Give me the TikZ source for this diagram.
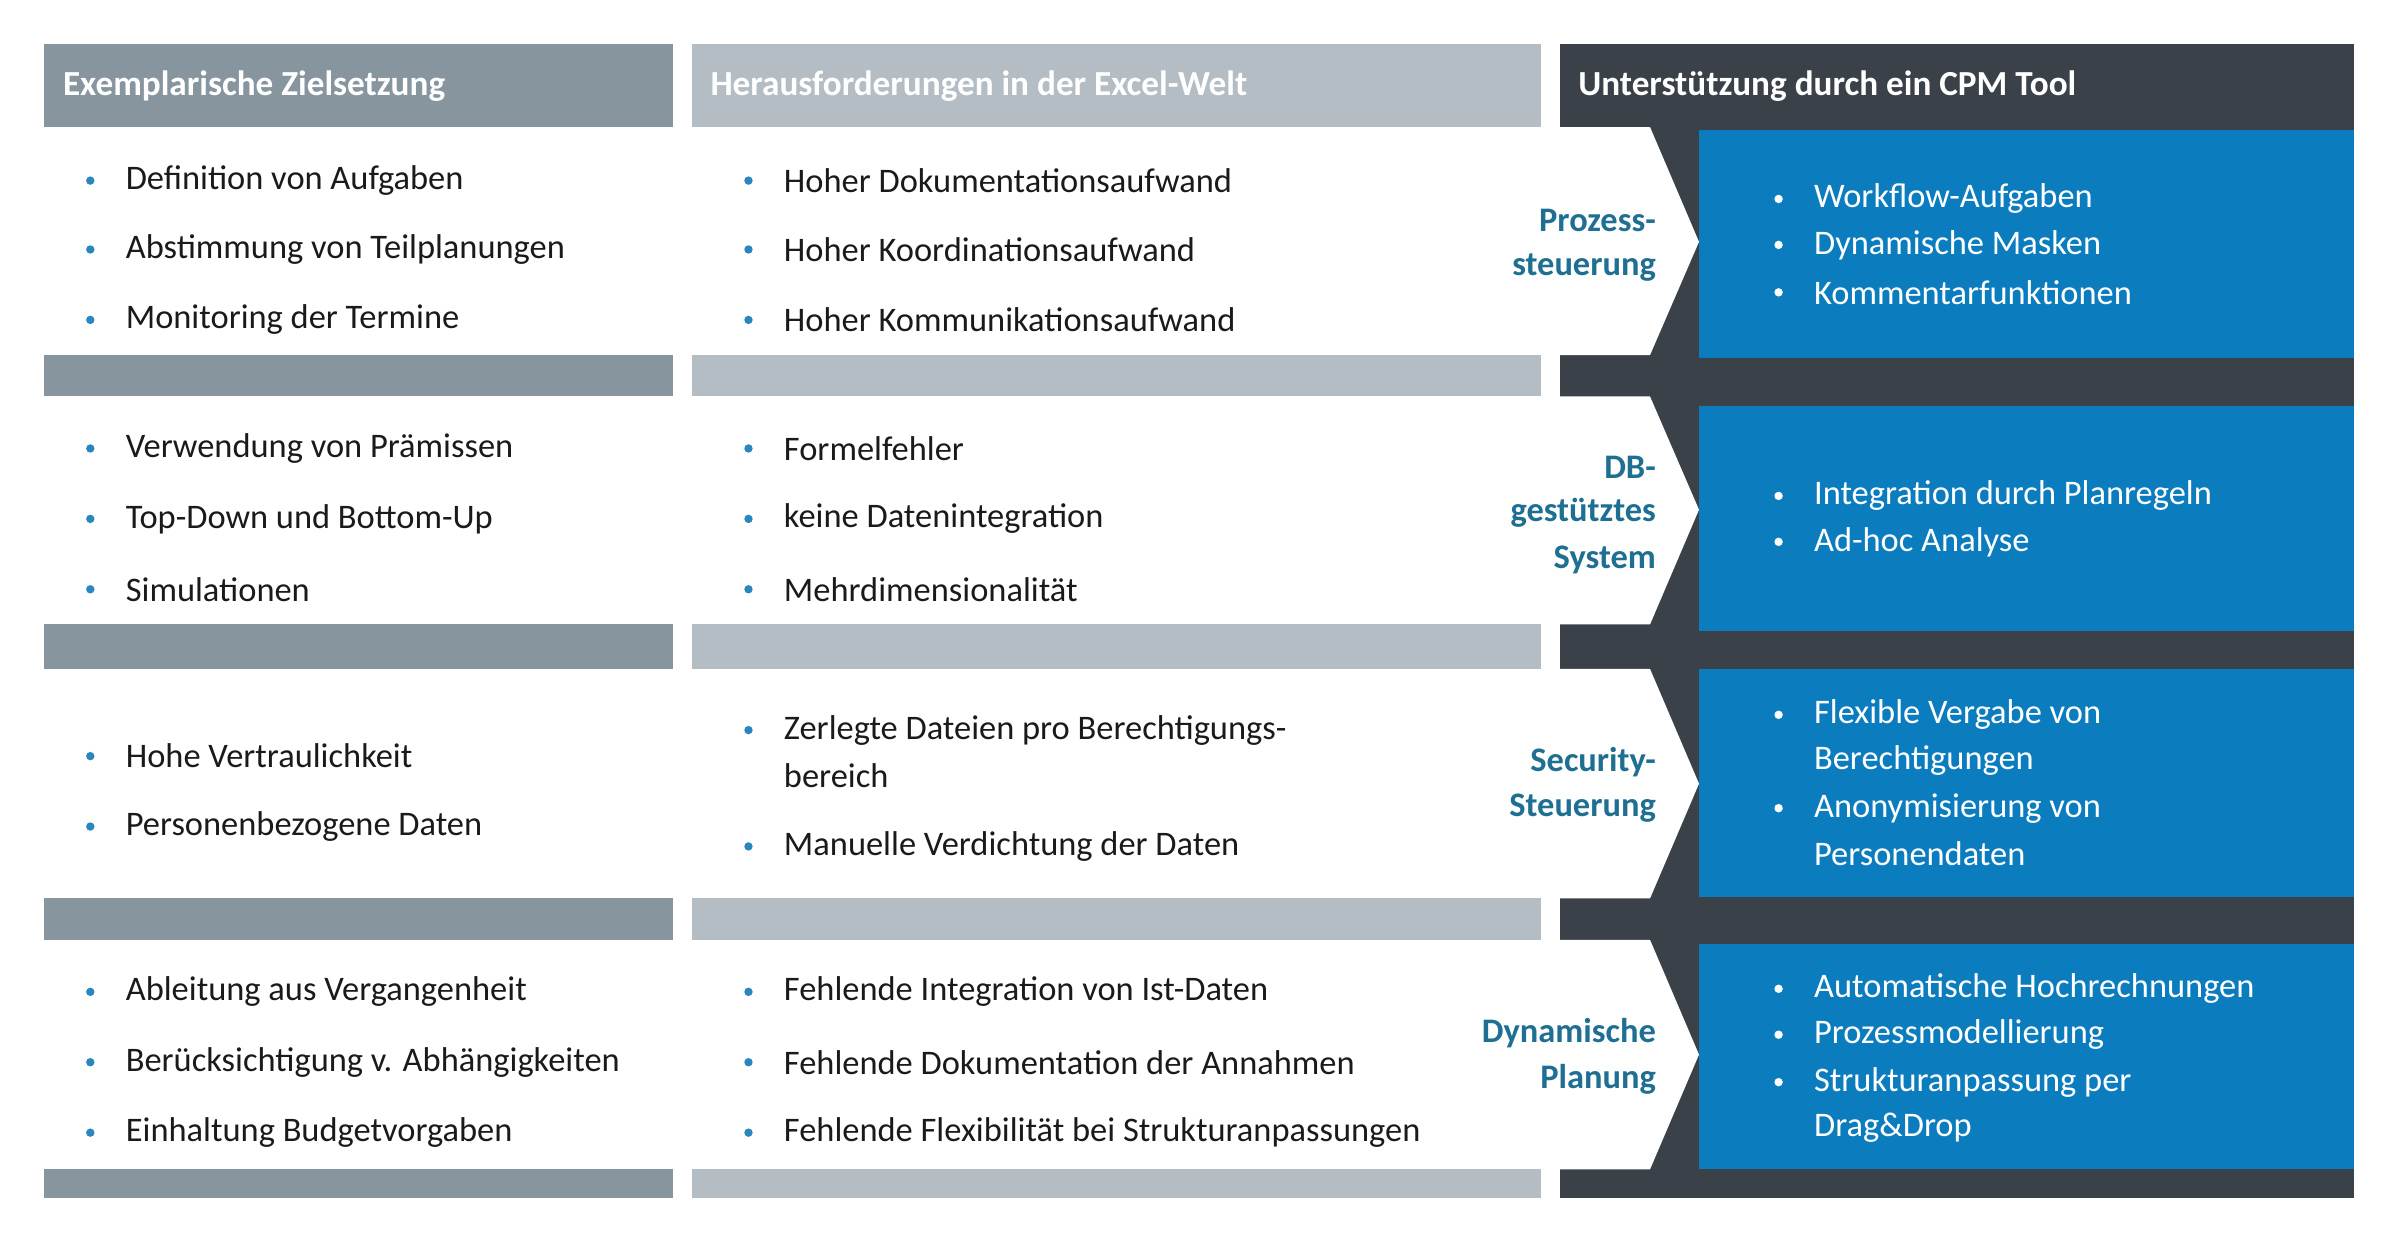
\documentclass[tikz,border=0pt]{standalone}
\usepackage{fontspec}
\setmainfont{Carlito}
\definecolor{hdA}{HTML}{87959F}
\definecolor{hdB}{HTML}{B5BDC4}
\definecolor{dk}{HTML}{3B4148}
\definecolor{bl}{HTML}{0B7DBF}
\definecolor{lab}{HTML}{1F6F93}
\definecolor{txt}{HTML}{1A1A1A}
\definecolor{bul}{HTML}{2B86BD}
\tikzset{
 hd/.style={anchor=west,inner sep=0,text=white,font=\fontsize{23}{27}\selectfont\bfseries},
 it/.style={anchor=west,inner sep=0,text=txt,font=\fontsize{22.5}{27}\selectfont},
 wit/.style={anchor=west,inner sep=0,text=white,font=\fontsize{22.5}{27}\selectfont},
 lb/.style={anchor=east,inner sep=0,text=lab,font=\fontsize{22.5}{27}\selectfont\bfseries},
 bu/.style={circle,fill=bul,inner sep=0,minimum size=5.5pt},
 wbu/.style={circle,fill=white,inner sep=0,minimum size=5.5pt},
}
\begin{document}
\begin{tikzpicture}[x=1pt,y=-1pt]
\useasboundingbox (0,0) rectangle (1568,813);
% headers and bars
\fill[hdA] (29,29) rectangle (440,83);
\fill[hdB] (452,29) rectangle (1007,83);
\foreach \a/\b in {232/259,408/437,587/614,764/783}{
 \fill[hdA] (29,\a) rectangle (440,\b);
 \fill[hdB] (452,\a) rectangle (1007,\b);}
\fill[dk] (1019,29) rectangle (1538,783);
\foreach \t/\m/\b/\bt/\bb in {83/158/232/85/234,259/333/408/265/412,437/512/587/437/586,614/689/764/617/764}{
 \fill[white] (1019,\t) -- (1078,\t) -- (1110,\m) -- (1078,\b) -- (1019,\b) -- cycle;
 \fill[bl] (1110,\bt) rectangle (1538,\bb);}
\node[hd] (h1) at (41,56) {Exemplarische Zielsetzung};
\node[hd] (h2) at (464,56) {Herausforderungen in der Excel-Welt};
\node[hd] (h3) at (1031,56) {Unterstützung durch ein CPM Tool};
% column 1
\foreach \y/\s [count=\i] in {118/Definition von Aufgaben,163/Abstimmung von Teilplanungen,209/Monitoring der Termine,293/Verwendung von Prämissen,339/Top-Down und Bottom-Up,385/Simulationen,494/Hohe Vertraulichkeit,540/Personenbezogene Daten,648/Ableitung aus Vergangenheit,694/Berücksichtigung v. Abhängigkeiten,740/Einhaltung Budgetvorgaben}{
 \node[bu] (ab\i) at (59,\y) {};
 \node[it] (a\i) at (82,\y) {\s};}
% column 2
\foreach \y/\s [count=\i] in {118/Hoher Dokumentationsaufwand,163/Hoher Koordinationsaufwand,209/Hoher Kommunikationsaufwand,293/Formelfehler,339/keine Datenintegration,385/Mehrdimensionalität,477/Zerlegte Dateien pro Berechtigungs-,553/Manuelle Verdichtung der Daten,648/Fehlende Integration von Ist-Daten,694/Fehlende Dokumentation der Annahmen,740/Fehlende Flexibilität bei Strukturanpassungen}{
 \node[bu] (bb\i) at (489,\y) {};
 \node[it] (b\i) at (512,\y) {\s};}
\node[it] (bx) at (512,507) {bereich};
% labels
\foreach \y/\s [count=\i] in {144/Prozess-,175/steuerung,305/DB-,335/gestütztes,366/System,498/Security-,528/Steuerung,675/Dynamische,705/Planung}{
 \node[lb] (l\i) at (1082,\y) {\s};}
% column 3
\foreach \y/\s [count=\i] in {130/Workflow-Aufgaben,160/Dynamische Masken,191/Kommentarfunktionen,324/Integration durch Planregeln,354/Ad-hoc Analyse,467/Flexible Vergabe von,528/Anonymisierung von,646/Automatische Hochrechnungen,676/Prozessmodellierung,707/Strukturanpassung per}{
 \node[wbu] (cb\i) at (1162,\y) {};
 \node[wit] (c\i) at (1185,\y) {\s};}
\foreach \y/\s [count=\i] in {497/Berechtigungen,558/Personendaten,737/Drag\&Drop}{
 \node[wit] (cx\i) at (1185,\y) {\s};}
\end{tikzpicture}
\end{document}
